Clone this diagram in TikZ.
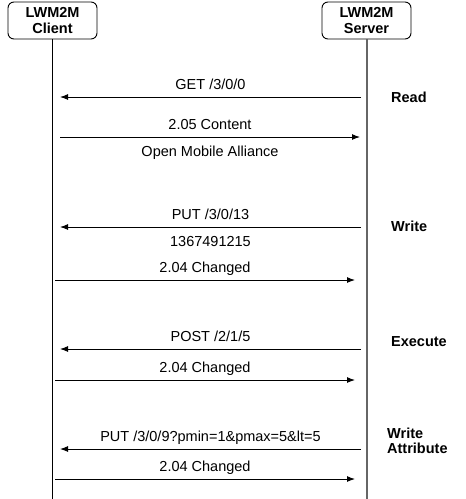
\documentclass[tikz,border=0pt]{standalone}
\usepackage{fontspec}
\setmainfont{Liberation Sans}
\usetikzlibrary{arrows.meta}

\newcommand{\diagfont}{\fontsize{14.5}{15.5}\selectfont}

\tikzset{
	actor/.style={draw, rounded corners=6pt, line width=0.9pt, minimum width=89pt, minimum height=37pt, align=center, font=\diagfont\bfseries, inner sep=0pt},
	msg/.style={line width=1pt, -{Latex[length=8pt,width=6pt]}},
	lblabove/.style={anchor=base, yshift=8pt, inner sep=0pt},
	lblbelow/.style={anchor=base, yshift=-19.5pt, inner sep=0pt},
	op/.style={anchor=base west, font=\diagfont\bfseries, inner sep=0pt, align=left}
}

\begin{document}
\begin{tikzpicture}[x=1pt, y=-1pt, font=\diagfont]
	\useasboundingbox (0,0) rectangle (466,499);
	\node[actor] (client) at (52.5,20.5) {LWM2M\\Client};
	\node[actor] (server) at (366.5,20.5) {LWM2M\\Server};
	\coordinate (bottom) at (0,499);
	\draw[line width=1pt] (client.south) -- (client |- bottom);
	\draw[line width=2pt, black!60] (server.south) -- (server |- bottom);
	% read
	\coordinate (s1) at (361,97); \coordinate (c1) at (60,97);
	\coordinate (c2) at (60,137); \coordinate (s2) at (360,137);
	\draw[msg] (s1) -- node[lblabove] (get) {GET /3/0/0} (c1);
	\draw[msg] (c2) -- node[lblabove] (content) {2.05 Content}
		node[lblbelow] (oma) {Open Mobile Alliance} (s2);
	\node[op] (read) at (391,102.7) {Read};
	% write
	\coordinate (s3) at (361,227); \coordinate (c3) at (60,227);
	\coordinate (c4) at (55,280); \coordinate (s4) at (355,280);
	\draw[msg] (s3) -- node[lblabove] (put) {PUT /3/0/13}
		node[lblbelow] (value) {1367491215} (c3);
	\draw[msg] (c4) -- node[lblabove] (changed1) {2.04 Changed} (s4);
	\node[op] (write) at (391,231.7) {Write};
	% execute
	\coordinate (s5) at (361,349); \coordinate (c5) at (60,349);
	\coordinate (c6) at (55,380); \coordinate (s6) at (355,380);
	\draw[msg] (s5) -- node[lblabove] (post) {POST /2/1/5} (c5);
	\draw[msg] (c6) -- node[lblabove] (changed2) {2.04 Changed} (s6);
	\node[op] (execute) at (391,346.7) {Execute};
	% write attribute
	\coordinate (s7) at (361,449); \coordinate (c7) at (60,449);
	\coordinate (c8) at (55,479); \coordinate (s8) at (355,479);
	\draw[msg] (s7) -- node[lblabove] (putattr) {PUT /3/0/9?pmin=1\&pmax=5\&lt=5} (c7);
	\draw[msg] (c8) -- node[lblabove] (changed3) {2.04 Changed} (s8);
	\node[op] (writeattr) at (387,453.5) {Write\\Attribute};
\end{tikzpicture}
\end{document}
